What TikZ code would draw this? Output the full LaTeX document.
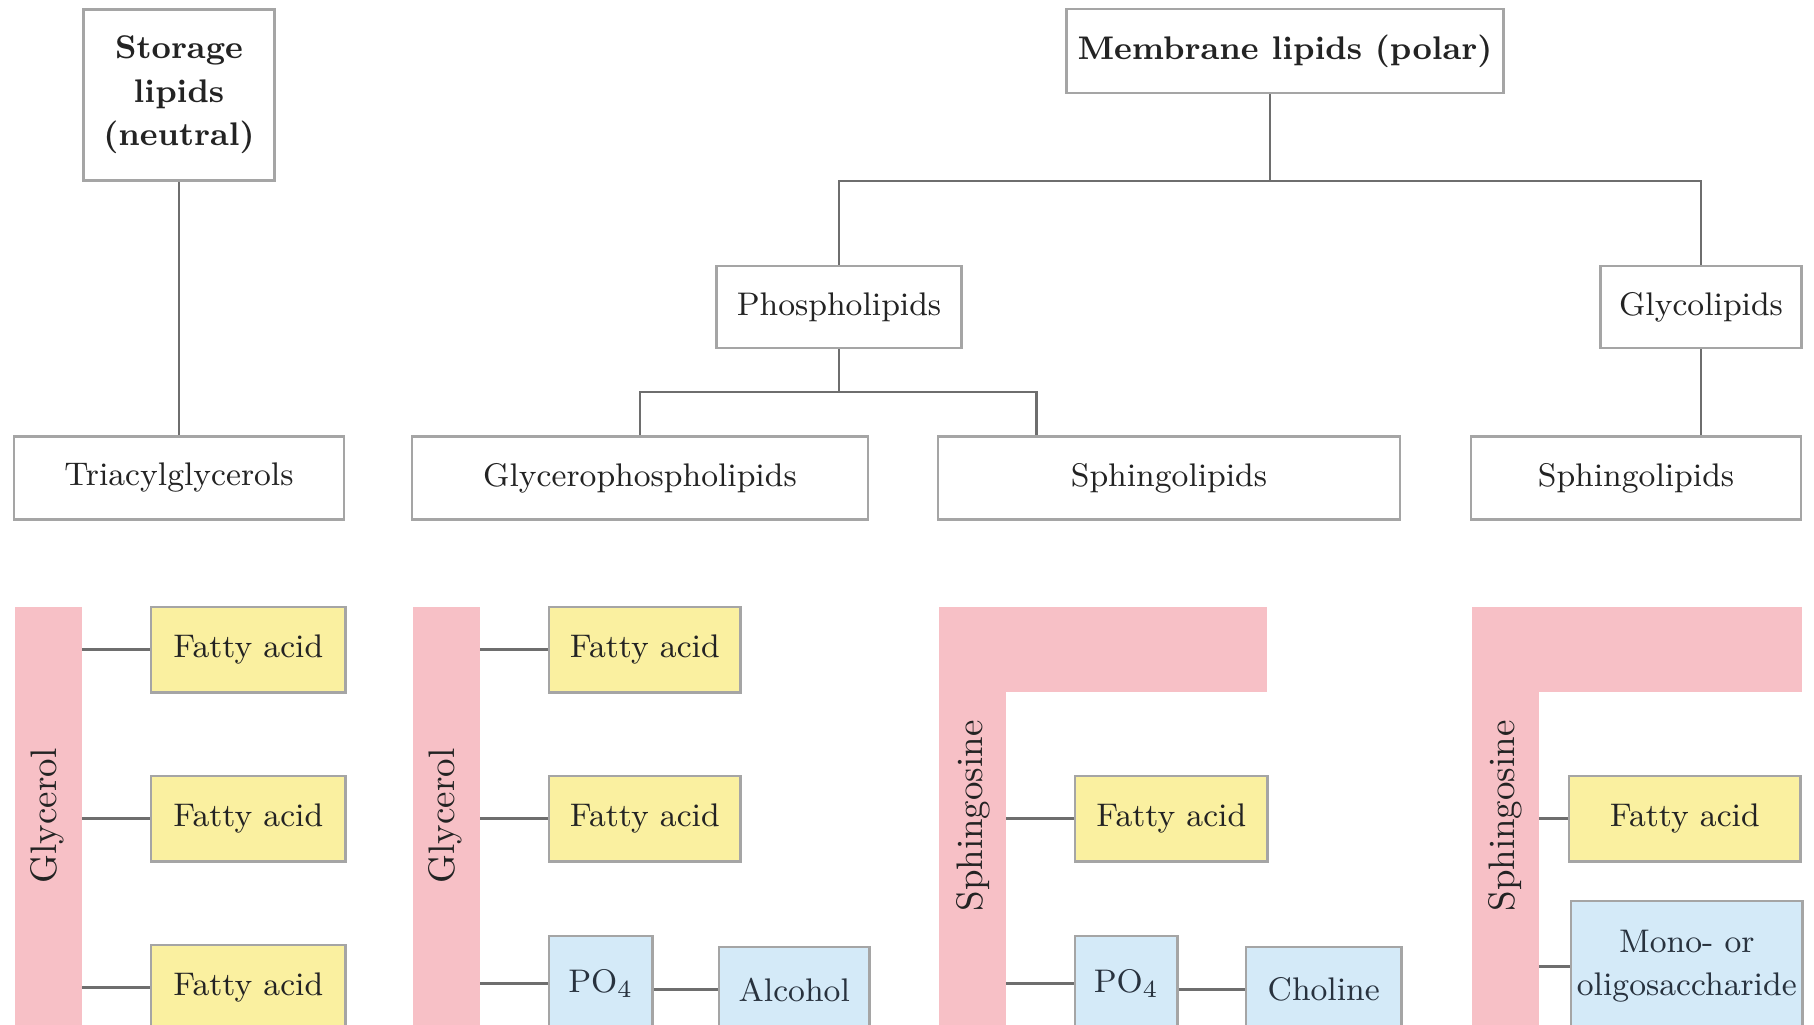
\documentclass[tikz,border=0pt]{standalone}
\usetikzlibrary{calc}

\definecolor{backpink}{RGB}{247,192,198}
\definecolor{acidyellow}{RGB}{250,240,160}
\definecolor{headblue}{RGB}{212,234,248}
\definecolor{rimgray}{RGB}{165,165,165}
\definecolor{linkgray}{RGB}{110,110,110}
\definecolor{inkgray}{RGB}{35,35,35}
\definecolor{inkblue}{RGB}{40,50,62}

\tikzset{
  classbox/.style={draw=rimgray, line width=0.7pt, fill=white, inner sep=0pt,
    align=center, text=inkgray},
  rootbox/.style={classbox, font=\fontsize{9.3}{12.4}\selectfont\bfseries},
  acidbox/.style={classbox, fill=acidyellow, anchor=north west,
    minimum height=0.85cm},
  headbox/.style={classbox, fill=headblue, text=inkblue, anchor=north west},
  backbone/.style={fill=backpink, inner sep=0pt, anchor=north west},
  backlabel/.style={rotate=90, text=inkgray, font=\fontsize{10.5}{12}\selectfont},
  link/.style={draw=linkgray, line width=0.8pt},
}

\begin{document}
\begin{tikzpicture}[x=0.01cm, y=-0.01cm, font=\fontsize{9.3}{12.4}\selectfont]
  \useasboundingbox (0,0) rectangle (1814,1025);
  \clip (0,0) rectangle (1814,1025);

  % Obere Ebene
  \node[rootbox, minimum width=1.91cm, minimum height=1.71cm] (storage) at (179,95)
    {Storage\\lipids\\(neutral)};
  \node[rootbox, minimum width=4.37cm, minimum height=0.84cm] (membrane) at (1285,51)
    {Membrane lipids (polar)};
  \node[classbox, minimum width=2.45cm, minimum height=0.82cm] (phospho) at (839,307)
    {Phospholipids};
  \node[classbox, minimum width=2.01cm, minimum height=0.82cm] (glyco) at (1701,307)
    {Glycolipids};

  % Klassen
  \node[classbox, minimum width=3.30cm, minimum height=0.83cm] (triacyl) at (179,478)
    {Triacylglycerols};
  \node[classbox, minimum width=4.56cm, minimum height=0.83cm] (glycphos) at (640,478)
    {Glycerophospholipids};
  \node[classbox, minimum width=4.62cm, minimum height=0.83cm] (sphingA) at (1169,478)
    {Sphingolipids};
  \node[classbox, minimum width=3.30cm, minimum height=0.83cm] (sphingB) at (1636,478)
    {Sphingolipids};

  % Baumlinien
  \coordinate (memfork) at (1270,181);
  \coordinate (phosfork) at (839,392);
  \draw[link] (memfork |- membrane.south) -- (memfork);
  \draw[link] (phospho.north) |- (memfork) -| (glyco.north);
  \draw[link] (storage.south) -- (triacyl.north);
  \draw[link] (phospho.south) -- (phosfork);
  \draw[link] (glycphos.north) |- (phosfork) -| ([xshift=1cm]sphingA.north west);
  \draw[link] (glyco.south) -- (glyco.south |- sphingB.north);

  % Triacylglycerol
  \node[backbone, minimum width=0.67cm, minimum height=4.4cm] (glycA) at (14,606) {};
  \node[backlabel] at (47,816) {Glycerol};
  \foreach \y [count=\i] in {606,775,944} {
    \node[acidbox, minimum width=1.94cm] (acidA\i) at (150,\y) {Fatty acid};
    \draw[link] (acidA\i.west -| glycA.east) -- (acidA\i.west);
  }

  % Glycerophospholipid
  \node[backbone, minimum width=0.67cm, minimum height=4.4cm] (glycB) at (412,606) {};
  \node[backlabel] at (445,816) {Glycerol};
  \foreach \y [count=\i] in {606,775} {
    \node[acidbox, minimum width=1.91cm] (acidB\i) at (548,\y) {Fatty acid};
    \draw[link] (acidB\i.west -| glycB.east) -- (acidB\i.west);
  }
  \node[headbox, minimum width=1.03cm, minimum height=0.95cm] (po4B) at (548,935) {PO$_4$};
  \node[headbox, minimum width=1.50cm, minimum height=0.85cm] (alcohol) at (718,946) {Alcohol};
  \draw[link] (po4B.west -| glycB.east) -- (po4B.west);
  \draw[link] (po4B.east |- alcohol.west) -- (alcohol.west);

  % Sphingophospholipid
  \node[backbone, minimum width=0.67cm, minimum height=4.4cm] (stemC) at (938,606) {};
  \node[backbone, minimum width=3.28cm, minimum height=0.85cm] (armC) at (938,606) {};
  \node[backlabel] at (973,816) {Sphingosine};
  \node[acidbox, minimum width=1.92cm] (acidC) at (1074,775) {Fatty acid};
  \node[headbox, minimum width=1.02cm, minimum height=0.95cm] (po4C) at (1074,935) {PO$_4$};
  \node[headbox, minimum width=1.55cm, minimum height=0.85cm] (choline) at (1245,946) {Choline};
  \draw[link] (acidC.west -| stemC.east) -- (acidC.west);
  \draw[link] (po4C.west -| stemC.east) -- (po4C.west);
  \draw[link] (po4C.east |- choline.west) -- (choline.west);

  % Glycosphingolipid
  \node[backbone, minimum width=0.67cm, minimum height=4.4cm] (stemD) at (1471,606) {};
  \node[backbone, minimum width=3.30cm, minimum height=0.85cm] (armD) at (1471,606) {};
  \node[backlabel] at (1505,816) {Sphingosine};
  \node[acidbox, minimum width=2.31cm] (acidD) at (1568,775) {Fatty acid};
  \node[headbox, minimum width=2.31cm, minimum height=1.30cm] (sugar) at (1570,900)
    {Mono- or\\oligosaccharide};
  \draw[link] (acidD.west -| stemD.east) -- (acidD.west);
  \draw[link] (sugar.west -| stemD.east) -- (sugar.west);
\end{tikzpicture}
\end{document}
